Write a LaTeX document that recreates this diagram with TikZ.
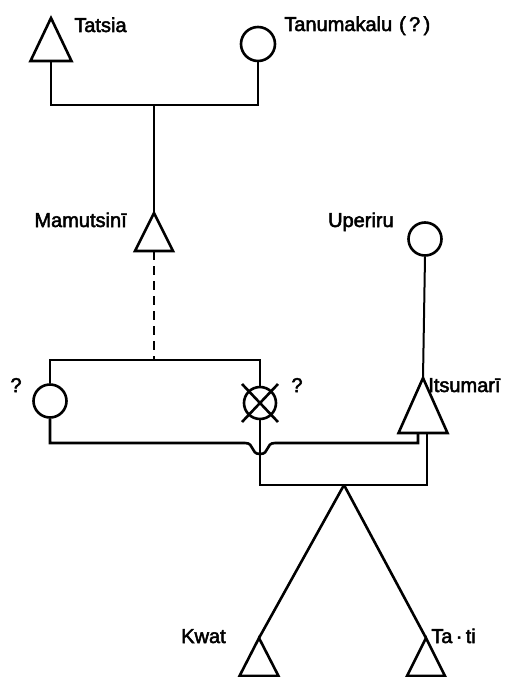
\documentclass[tikz,border=0pt]{standalone}
\usepackage{fontspec}
\setmainfont{Liberation Sans}[UprightFeatures={FakeBold=2.5}]
\usetikzlibrary{calc}
\begin{document}
\begin{tikzpicture}[x=1pt,y=-1pt,line width=2.6pt,
  tri/.style={inner sep=0pt,outer sep=0pt},
  circ/.style={circle,draw,inner sep=0pt,minimum size=#1},
  lbl/.style={inner sep=0pt,font=\fontsize{20}{22}\selectfont}]
\useasboundingbox (0,0) rectangle (509,677);
% persons
\node[tri,minimum width=41pt,minimum height=43pt] (tatsia) at (51,39.5) {};
\node[circ=34pt] (tanu) at (258,44) {};
\node[tri,minimum width=38pt,minimum height=38pt] (mam) at (154,232) {};
\node[circ=33pt] (lc) at (50,401) {};
\node[circ=32pt] (cc) at (260,403) {};
\node[circ=33pt] (uper) at (425,239) {};
\node[tri,minimum width=49pt,minimum height=55pt] (itsu) at (423,405.5) {};
\node[tri,minimum width=39pt,minimum height=38pt] (kwat) at (259,657) {};
\node[tri,minimum width=38pt,minimum height=38pt] (tati) at (426,657) {};
\foreach \n in {tatsia,mam,itsu,kwat,tati}
  \draw[line join=miter] (\n.north) -- (\n.south west) -- (\n.south east) -- cycle;
% cross on the circle
\draw (cc.center) ++(-18,-19) -- ++(36,38);
\draw (cc.center) ++(18,-19) -- ++(-36,38);
% labels
\node[lbl,anchor=base west] (ltatsia) at (73,32) {Tatsia};
\node[lbl,anchor=base west] (ltanu) at (283,31) {Tanumakalu\hspace{7pt}(\,?\,)};
\node[lbl,anchor=base east] (lmam) at (128,227) {Mamutsinī};
\node[lbl,anchor=base east] (luper) at (395,227) {Uperiru};
\node[lbl,anchor=base] (llc) at (16,392) {?};
\node[lbl,anchor=base] (lcc) at (297,392) {?};
\node[lbl,anchor=base west] (litsu) at (427,392) {Itsumarī};
\node[lbl,anchor=base east] (lkwat) at (227,643) {Kwat};
\node[lbl,anchor=base west] (ltati) at (430,643) {Ta\,·\,ti};
% junctions
\coordinate (cp1) at (154,105);
\coordinate (sib) at (154,360);
\coordinate (hopL) at (245,443);
\coordinate (hopR) at (275,443);
\coordinate (itL) at (418,433);
\coordinate (itR) at (427,433);
\coordinate (cpb) at (344,485);
% connectors
\draw (tatsia.south) -- (tatsia.south |- cp1) -- (tanu.south |- cp1) -- (tanu.south);
\draw (cp1) -- (mam.north);
\draw[dashed,dash pattern=on 9pt off 6pt] (mam.south) -- (sib);
\draw (lc.north) -- (lc.north |- sib) -- (cc.north |- sib) -- (cc.north);
\draw[line width=2pt] (uper.south) -- (itsu.north);
\draw (lc.south) |- (hopL) .. controls (255,443) and (250,454) .. (260,454)
      .. controls (270,454) and (265,443) .. (hopR) -| (itL);
\draw (cc.south) -- (cc.south |- cpb) -- (itR |- cpb) -- (itR);
\draw (cpb) -- (kwat.north);
\draw (cpb) -- (tati.north);
\end{tikzpicture}
\end{document}
